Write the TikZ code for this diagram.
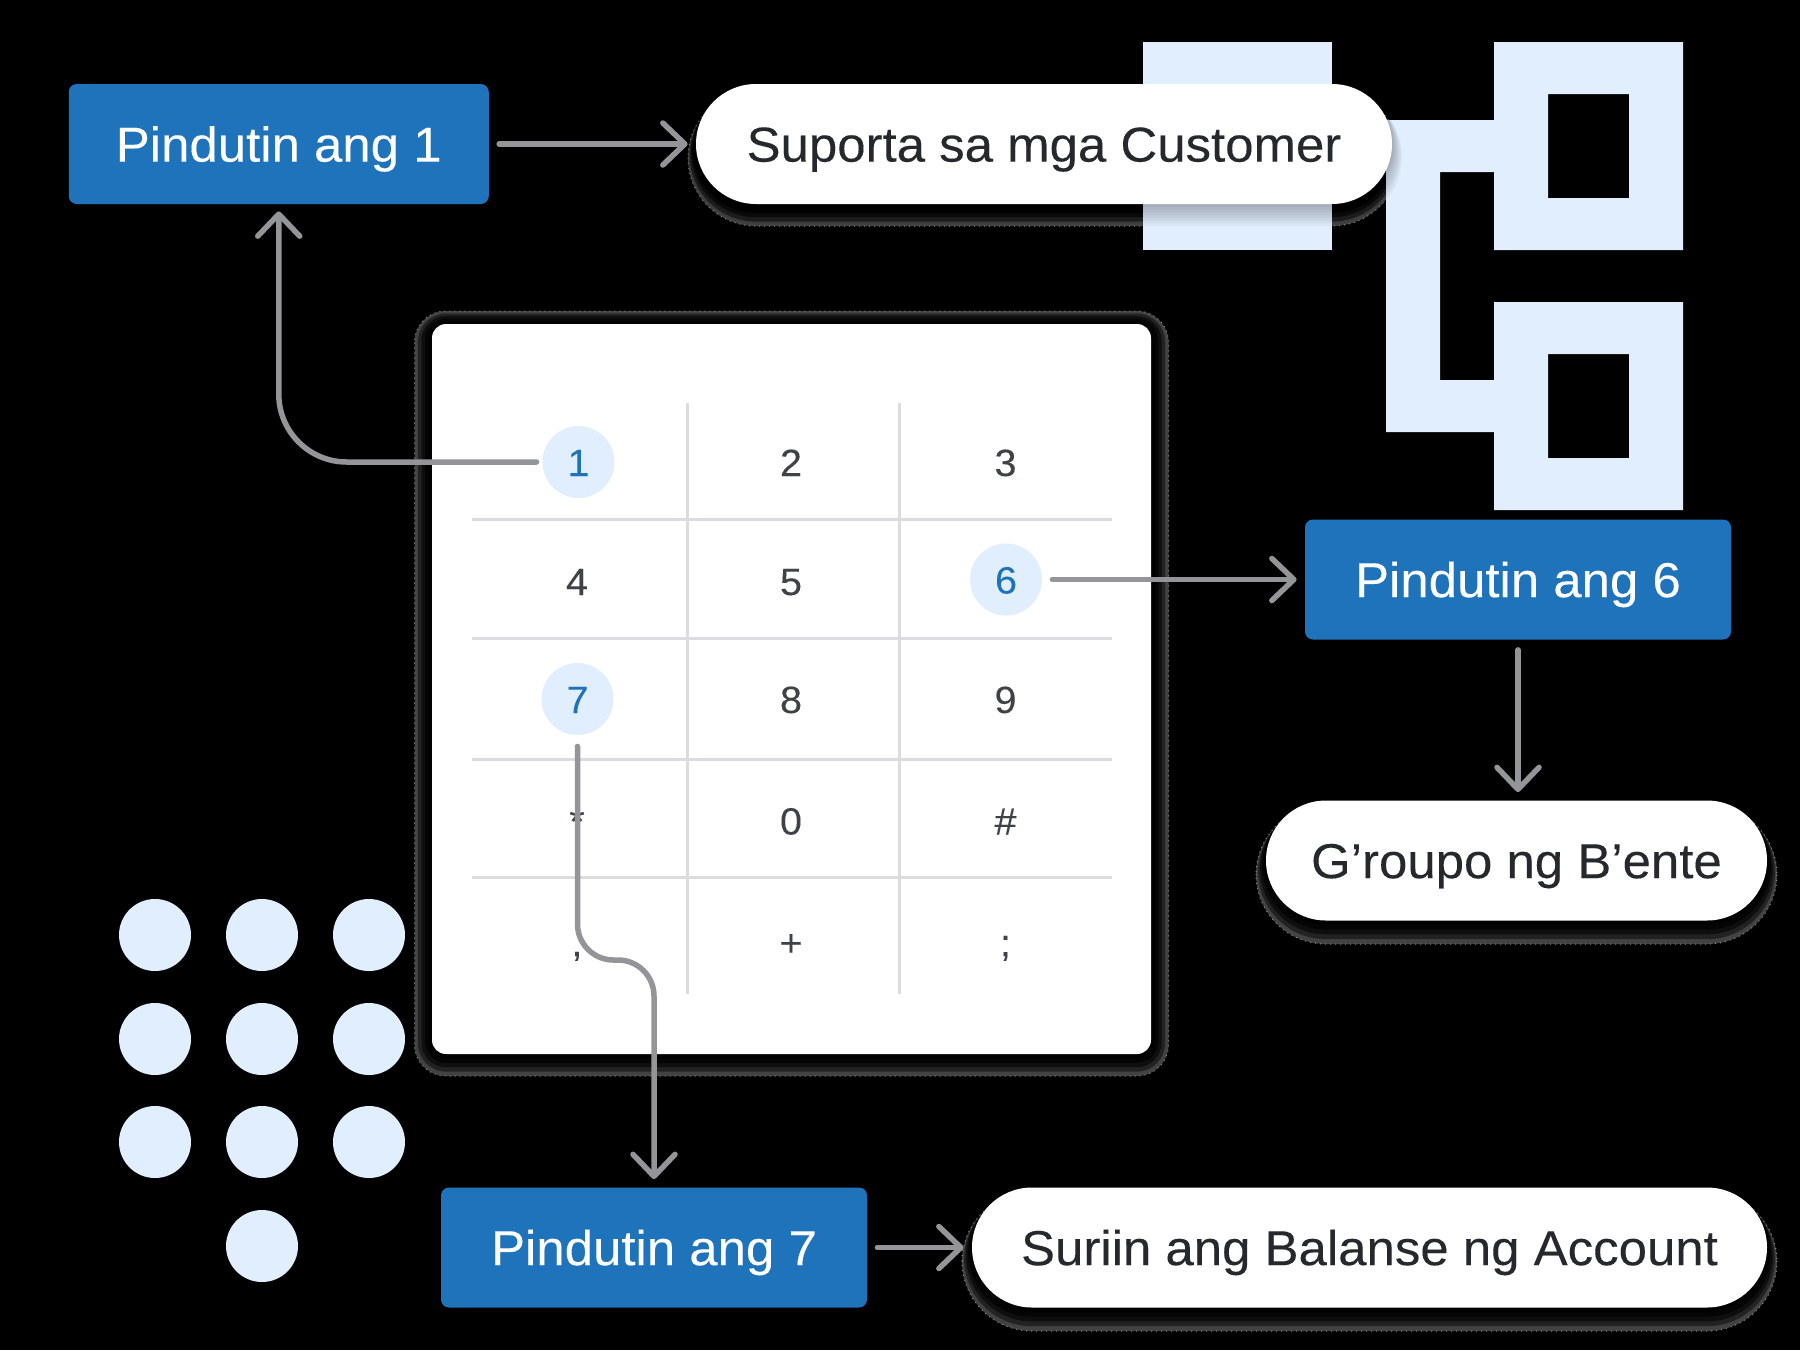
\documentclass[tikz,border=0pt]{standalone}
\usepackage{fontspec}
\setmainfont[FakeStretch=1.04,FakeBold=0.15]{Liberation Sans}
\usetikzlibrary{arrows.meta}
\definecolor{keyblue}{HTML}{1E73BB}
\definecolor{pale}{HTML}{E1EEFE}
\definecolor{linegrey}{HTML}{939598}
\definecolor{gridgrey}{HTML}{DADCE0}
\definecolor{inkdark}{HTML}{25282D}
\definecolor{inkkey}{HTML}{3F4246}
\tikzset{
    pressbox/.style={rectangle, fill=keyblue, text=white, rounded corners=4pt, inner sep=0pt,
        minimum width=213pt, minimum height=60pt, font=\fontsize{24.5}{28}\selectfont,
        text height=17.6pt, text depth=0pt},
    pill/.style={rectangle, fill=white, text=inkdark, rounded corners=30pt, inner sep=0pt,
        minimum height=60pt, font=\fontsize{24.5}{28}\selectfont, text height=17.6pt, text depth=0pt},
    keynum/.style={inner sep=0pt, text=inkkey, font=\fontsize{19}{22}\selectfont, text height=14pt, text depth=0pt},
    keyon/.style={circle, fill=pale, text=keyblue, minimum size=36pt, inner sep=0pt,
        font=\fontsize{19}{22}\selectfont, text height=14pt, text depth=0pt},
    paledot/.style={circle, fill=pale, minimum size=36pt, inner sep=0pt},
    gridline/.style={draw=gridgrey, line width=1.5pt},
    connector/.style={draw=linegrey, line width=2.75pt, line cap=round,
        -{Straight Barb[length=11pt,width=21pt,round]}, shorten >=4pt},
    rimedge/.style={draw=white!55!black, line width=0.5pt, dotted}
}
% grey rim of a shadow on the dark ground: x1,y1,x2,y2,grow,drop,radius
\newcommand{\softrim}[7]{
    \foreach \k in {1,0.8,0.6,0.4,0.2}{
        \pgfmathsetmacro{\lev}{26*\k*\k*\k}
        \pgfmathsetmacro{\rad}{(#7+#5*\k)*0.5}
        \fill[white!\lev!black, rounded corners=\rad pt]
            ({#1-#5*\k},{#2-#5*\k+#6*\k}) rectangle ({#3+#5*\k},{#4+#5*\k+#6*\k});
    }
    \draw[rimedge, rounded corners={(#7+#5)*0.5pt}] ({#1-#5},{#2-#5+#6}) rectangle ({#3+#5},{#4+#5+#6});
}
\begin{document}
\begin{tikzpicture}[x=0.5pt, y=-0.5pt]
    \useasboundingbox (0,0) rectangle (1800,1350);
    \fill[black] (0,0) rectangle (1800,1350);

    % shadows on the dark ground
    \softrim{432}{324}{1151}{1054}{17.5}{4.5}{14}
    \softrim{696}{84}{1392}{204}{8}{14}{60}
    \softrim{1266}{801}{1767}{920}{10}{14}{60}
    \softrim{972}{1188}{1767}{1307}{10}{14}{60}

    % pale org chart behind the pills
    \fill[pale] (1143,42) rectangle (1332,250);
    \fill[pale, even odd rule] (1494,42) rectangle (1683,250) (1548,94) rectangle (1629,198);
    \fill[pale, even odd rule] (1494,302) rectangle (1683,510) (1548,354) rectangle (1629,458);
    \fill[pale] (1494,120) -- (1386,120) -- (1386,432) -- (1494,432) -- (1494,380)
        -- (1440,380) -- (1440,172) -- (1494,172) -- cycle;

    % shadow of the first pill where it falls on the pale shapes
    \foreach \k in {1,0.875,0.75,0.625,0.5,0.375,0.25,0.125}{
        \pgfmathsetmacro{\rad}{(60+10*\k)*0.5}
        \fill[black, opacity=0.035, rounded corners=\rad pt]
            ({696-10*\k},{84+4*\k}) rectangle ({1392+10*\k},{204+22*\k});
    }

    % dial dots
    \foreach \px in {155,262,369}{
        \foreach \py in {935,1039,1142}{
            \node (dot\px\py) [paledot] at (\px,\py) {};
        }
    }
    \node (dotlast) [paledot] at (262,1246) {};

    % keypad
    \node (card) [rectangle, fill=white, rounded corners=7pt, inner sep=0pt,
        minimum width=359.5pt, minimum height=365pt] at (791.5,689) {};
    \foreach \gy in {519.5,638,759,877}{
        \draw[gridline] (472,\gy) -- (1112,\gy);
    }
    \foreach \gx in {687,899}{
        \draw[gridline] (\gx,403) -- (\gx,994);
    }
    \node (key1) [keyon] at (578.5,462) {1};
    \node (key6) [keyon] at (1006,579.5) {6};
    \node (key7) [keyon] at (577.5,699) {7};
    \foreach \nm/\lab/\px/\py in {key2/2/791/462, key3/3/1005.5/462, key4/4/577/581, key5/5/791/581,
        key8/8/791/699, key9/9/1005.5/699, keystar/*/577/820.5, key0/0/791/820.5, keyhash/\#/1005.5/820.5,
        keycomma/{,}/577/942, keyplus/+/791/942, keysemi/;/1005.5/942}{
        \node (\nm) [keynum] at (\px,\py) {\lab};
    }

    % steps
    \node (press1) [pressbox, minimum width=210pt] at (278.75,144) {Pindutin ang 1};
    \node (press6) [pressbox] at (1518,579.5) {Pindutin ang 6};
    \node (press7) [pressbox] at (654,1247.5) {Pindutin ang 7};
    \node (support) [pill, minimum width=348pt] at (1044,144) {Suporta sa mga Customer};
    \node (group) [pill, minimum width=250.5pt] at (1516.5,860.5) {G’roupo ng B’ente};
    \node (balance) [pill, minimum width=397.5pt] at (1369.5,1247.5) {Suriin ang Balanse ng Account};

    % connectors
    \coordinate (bend7) at (615,960);
    \draw[connector, shorten <=5pt] (press1.east) -- (support.west);
    \draw[connector, shorten <=2.75pt, shorten >=3.5pt, rounded corners=34pt] (key1.west) -| (press1.south);
    \draw[connector, shorten <=5pt] (key6.east) -- (press6.west);
    \draw[connector, shorten <=5pt] (press6.south) -- (press6.south |- group.north);
    \draw[connector, shorten <=5.5pt, rounded corners=18pt] (key7.south) -- (key7.south |- bend7)
        -- (press7.north |- bend7) -- (press7.north);
    \draw[connector, shorten <=5pt] (press7.east) -- (balance.west);
\end{tikzpicture}
\end{document}
